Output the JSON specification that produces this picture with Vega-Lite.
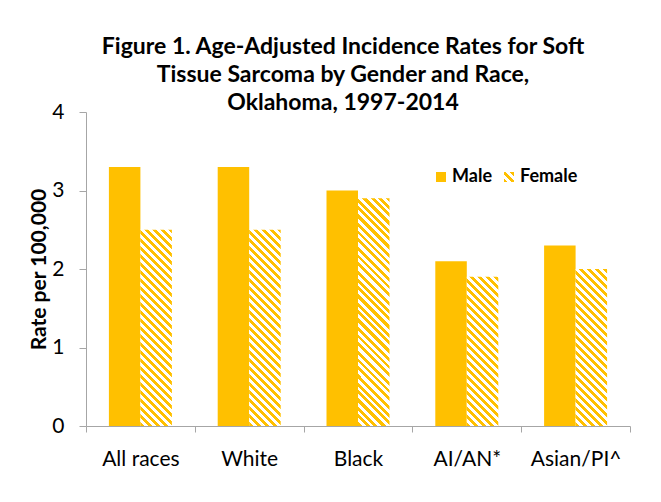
{
  "$schema": "https://vega.github.io/schema/vega-lite/v6.json",
  "width": 544,
  "height": 314,
  "autosize": {"type": "none"},
  "padding": {"left": 86, "top": 112, "right": 31, "bottom": 76},
  "background": "#FFFFFF",
  "config": {"font": "Lato", "view": {"stroke": null}},
  "title": {
    "text": ["Figure 1. Age-Adjusted Incidence Rates for Soft", "Tissue Sarcoma by Gender and Race,", "Oklahoma, 1997-2014"],
    "fontSize": 23,
    "fontWeight": "bold",
    "font": "Lato",
    "color": "#000000",
    "lineHeight": 28,
    "anchor": "middle",
    "frame": "group",
    "dx": -15,
    "dy": 18,
    "offset": 4
  },
  "params": [
    {"name": "stripes", "value": [
      {"offset": 0, "color": "#FFC000"}, {"offset": 0.0154, "color": "#FFC000"},
      {"offset": 0.0154, "color": "#FFFFFF"}, {"offset": 0.0308, "color": "#FFFFFF"},
      {"offset": 0.0308, "color": "#FFC000"}, {"offset": 0.0462, "color": "#FFC000"},
      {"offset": 0.0462, "color": "#FFFFFF"}, {"offset": 0.0615, "color": "#FFFFFF"},
      {"offset": 0.0615, "color": "#FFC000"}, {"offset": 0.0769, "color": "#FFC000"},
      {"offset": 0.0769, "color": "#FFFFFF"}, {"offset": 0.0923, "color": "#FFFFFF"},
      {"offset": 0.0923, "color": "#FFC000"}, {"offset": 0.1077, "color": "#FFC000"},
      {"offset": 0.1077, "color": "#FFFFFF"}, {"offset": 0.1231, "color": "#FFFFFF"},
      {"offset": 0.1231, "color": "#FFC000"}, {"offset": 0.1385, "color": "#FFC000"},
      {"offset": 0.1385, "color": "#FFFFFF"}, {"offset": 0.1538, "color": "#FFFFFF"},
      {"offset": 0.1538, "color": "#FFC000"}, {"offset": 0.1692, "color": "#FFC000"},
      {"offset": 0.1692, "color": "#FFFFFF"}, {"offset": 0.1846, "color": "#FFFFFF"},
      {"offset": 0.1846, "color": "#FFC000"}, {"offset": 0.2, "color": "#FFC000"},
      {"offset": 0.2, "color": "#FFFFFF"}, {"offset": 0.2154, "color": "#FFFFFF"},
      {"offset": 0.2154, "color": "#FFC000"}, {"offset": 0.2308, "color": "#FFC000"},
      {"offset": 0.2308, "color": "#FFFFFF"}, {"offset": 0.2462, "color": "#FFFFFF"},
      {"offset": 0.2462, "color": "#FFC000"}, {"offset": 0.2615, "color": "#FFC000"},
      {"offset": 0.2615, "color": "#FFFFFF"}, {"offset": 0.2769, "color": "#FFFFFF"},
      {"offset": 0.2769, "color": "#FFC000"}, {"offset": 0.2923, "color": "#FFC000"},
      {"offset": 0.2923, "color": "#FFFFFF"}, {"offset": 0.3077, "color": "#FFFFFF"},
      {"offset": 0.3077, "color": "#FFC000"}, {"offset": 0.3231, "color": "#FFC000"},
      {"offset": 0.3231, "color": "#FFFFFF"}, {"offset": 0.3385, "color": "#FFFFFF"},
      {"offset": 0.3385, "color": "#FFC000"}, {"offset": 0.3538, "color": "#FFC000"},
      {"offset": 0.3538, "color": "#FFFFFF"}, {"offset": 0.3692, "color": "#FFFFFF"},
      {"offset": 0.3692, "color": "#FFC000"}, {"offset": 0.3846, "color": "#FFC000"},
      {"offset": 0.3846, "color": "#FFFFFF"}, {"offset": 0.4, "color": "#FFFFFF"},
      {"offset": 0.4, "color": "#FFC000"}, {"offset": 0.4154, "color": "#FFC000"},
      {"offset": 0.4154, "color": "#FFFFFF"}, {"offset": 0.4308, "color": "#FFFFFF"},
      {"offset": 0.4308, "color": "#FFC000"}, {"offset": 0.4462, "color": "#FFC000"},
      {"offset": 0.4462, "color": "#FFFFFF"}, {"offset": 0.4615, "color": "#FFFFFF"},
      {"offset": 0.4615, "color": "#FFC000"}, {"offset": 0.4769, "color": "#FFC000"},
      {"offset": 0.4769, "color": "#FFFFFF"}, {"offset": 0.4923, "color": "#FFFFFF"},
      {"offset": 0.4923, "color": "#FFC000"}, {"offset": 0.5077, "color": "#FFC000"},
      {"offset": 0.5077, "color": "#FFFFFF"}, {"offset": 0.5231, "color": "#FFFFFF"},
      {"offset": 0.5231, "color": "#FFC000"}, {"offset": 0.5385, "color": "#FFC000"},
      {"offset": 0.5385, "color": "#FFFFFF"}, {"offset": 0.5538, "color": "#FFFFFF"},
      {"offset": 0.5538, "color": "#FFC000"}, {"offset": 0.5692, "color": "#FFC000"},
      {"offset": 0.5692, "color": "#FFFFFF"}, {"offset": 0.5846, "color": "#FFFFFF"},
      {"offset": 0.5846, "color": "#FFC000"}, {"offset": 0.6, "color": "#FFC000"},
      {"offset": 0.6, "color": "#FFFFFF"}, {"offset": 0.6154, "color": "#FFFFFF"},
      {"offset": 0.6154, "color": "#FFC000"}, {"offset": 0.6308, "color": "#FFC000"},
      {"offset": 0.6308, "color": "#FFFFFF"}, {"offset": 0.6462, "color": "#FFFFFF"},
      {"offset": 0.6462, "color": "#FFC000"}, {"offset": 0.6615, "color": "#FFC000"},
      {"offset": 0.6615, "color": "#FFFFFF"}, {"offset": 0.6769, "color": "#FFFFFF"},
      {"offset": 0.6769, "color": "#FFC000"}, {"offset": 0.6923, "color": "#FFC000"},
      {"offset": 0.6923, "color": "#FFFFFF"}, {"offset": 0.7077, "color": "#FFFFFF"},
      {"offset": 0.7077, "color": "#FFC000"}, {"offset": 0.7231, "color": "#FFC000"},
      {"offset": 0.7231, "color": "#FFFFFF"}, {"offset": 0.7385, "color": "#FFFFFF"},
      {"offset": 0.7385, "color": "#FFC000"}, {"offset": 0.7538, "color": "#FFC000"},
      {"offset": 0.7538, "color": "#FFFFFF"}, {"offset": 0.7692, "color": "#FFFFFF"},
      {"offset": 0.7692, "color": "#FFC000"}, {"offset": 0.7846, "color": "#FFC000"},
      {"offset": 0.7846, "color": "#FFFFFF"}, {"offset": 0.8, "color": "#FFFFFF"},
      {"offset": 0.8, "color": "#FFC000"}, {"offset": 0.8154, "color": "#FFC000"},
      {"offset": 0.8154, "color": "#FFFFFF"}, {"offset": 0.8308, "color": "#FFFFFF"},
      {"offset": 0.8308, "color": "#FFC000"}, {"offset": 0.8462, "color": "#FFC000"},
      {"offset": 0.8462, "color": "#FFFFFF"}, {"offset": 0.8615, "color": "#FFFFFF"},
      {"offset": 0.8615, "color": "#FFC000"}, {"offset": 0.8769, "color": "#FFC000"},
      {"offset": 0.8769, "color": "#FFFFFF"}, {"offset": 0.8923, "color": "#FFFFFF"},
      {"offset": 0.8923, "color": "#FFC000"}, {"offset": 0.9077, "color": "#FFC000"},
      {"offset": 0.9077, "color": "#FFFFFF"}, {"offset": 0.9231, "color": "#FFFFFF"},
      {"offset": 0.9231, "color": "#FFC000"}, {"offset": 0.9385, "color": "#FFC000"},
      {"offset": 0.9385, "color": "#FFFFFF"}, {"offset": 0.9538, "color": "#FFFFFF"},
      {"offset": 0.9538, "color": "#FFC000"}, {"offset": 0.9692, "color": "#FFC000"},
      {"offset": 0.9692, "color": "#FFFFFF"}, {"offset": 0.9846, "color": "#FFFFFF"},
      {"offset": 0.9846, "color": "#FFC000"}, {"offset": 1, "color": "#FFC000"}
    ]},
    {"name": "legendStripes", "value": [
      {"offset": 0, "color": "#FFC000"}, {"offset": 0.2, "color": "#FFC000"},
      {"offset": 0.2, "color": "#FFFFFF"}, {"offset": 0.4, "color": "#FFFFFF"},
      {"offset": 0.4, "color": "#FFC000"}, {"offset": 0.6, "color": "#FFC000"},
      {"offset": 0.6, "color": "#FFFFFF"}, {"offset": 0.8, "color": "#FFFFFF"},
      {"offset": 0.8, "color": "#FFC000"}, {"offset": 1, "color": "#FFC000"}
    ]}
  ],
  "data": {"values": [
    {"race": "All races", "gender": "Male", "rate": 3.3},
    {"race": "All races", "gender": "Female", "rate": 2.5},
    {"race": "White", "gender": "Male", "rate": 3.3},
    {"race": "White", "gender": "Female", "rate": 2.5},
    {"race": "Black", "gender": "Male", "rate": 3.0},
    {"race": "Black", "gender": "Female", "rate": 2.9},
    {"race": "AI/AN*", "gender": "Male", "rate": 2.1},
    {"race": "AI/AN*", "gender": "Female", "rate": 1.9},
    {"race": "Asian/PI^", "gender": "Male", "rate": 2.3},
    {"race": "Asian/PI^", "gender": "Female", "rate": 2.0}
  ]},
  "mark": {"type": "bar", "strokeWidth": 0},
  "encoding": {
    "x": {
      "field": "race", "type": "nominal", "sort": null,
      "scale": {"paddingInner": 0, "paddingOuter": 0},
      "axis": {
        "title": null, "labelAngle": 0, "labelFontSize": 21, "labelColor": "#000000",
        "labelPadding": 16, "tickBand": "extent", "tickSize": 6, "tickColor": "#A6A6A6",
        "domainColor": "#A6A6A6", "domainWidth": 1, "tickWidth": 1
      }
    },
    "xOffset": {
      "field": "gender", "type": "nominal", "sort": ["Male", "Female"],
      "scale": {"paddingOuter": 0.727, "paddingInner": 0}
    },
    "y": {
      "field": "rate", "type": "quantitative",
      "scale": {"domain": [0, 4], "nice": false},
      "axis": {
        "title": "Rate per 100,000", "titleFontSize": 21, "titleFontWeight": "bold", "titleColor": "#000000",
        "titlePadding": 2, "values": [0, 1, 2, 3, 4], "grid": false,
        "labelFontSize": 21, "labelColor": "#000000", "labelPadding": 15,
        "tickSize": 7, "tickColor": "#A6A6A6", "domainColor": "#A6A6A6", "domainWidth": 1
      }
    },
    "fill": {
      "field": "gender", "type": "nominal",
      "scale": {
        "domain": ["Male", "Female"],
        "range": ["#FFC000", {"expr": "{gradient: 'linear', x1: 0, y1: 1, x2: 1, y2: 0, stops: legendStripes}"}]
      },
      "condition": {
        "test": "datum.gender === 'Female'",
        "value": {"expr": "{gradient: 'linear', x1: 0, y1: 1, x2: 260*bandwidth('xOffset')/(pow(bandwidth('xOffset'),2)+pow(scale('y',0)-scale('y',datum.rate),2)), y2: 1 - 260*(scale('y',0)-scale('y',datum.rate))/(pow(bandwidth('xOffset'),2)+pow(scale('y',0)-scale('y',datum.rate),2)), stops: stripes}"}
      },
      "legend": {
        "title": null, "orient": "none", "legendX": 346, "legendY": 56, "direction": "horizontal",
        "padding": 0,
        "symbolType": "square", "symbolSize": 100, "symbolStrokeWidth": 0,
        "labelFontSize": 18, "labelFontWeight": "bold", "labelColor": "#000000",
        "labelOffset": 2, "columnPadding": 8
      }
    }
  }
}
